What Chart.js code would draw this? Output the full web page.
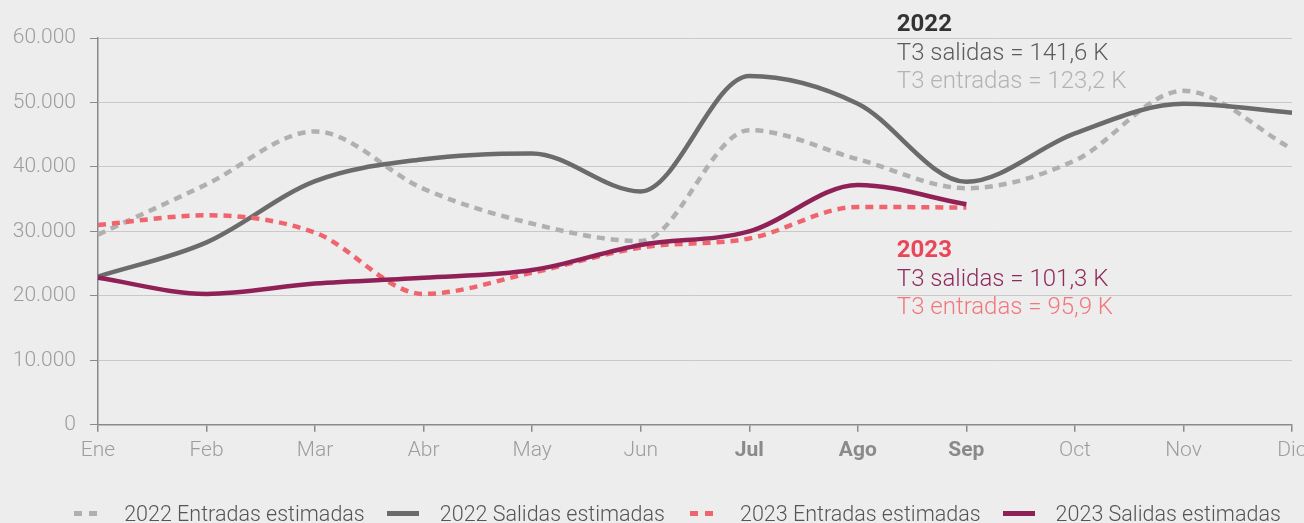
<!DOCTYPE html>
<html>
<head>
<meta charset="utf-8">
<script src="https://cdn.jsdelivr.net/npm/chart.js@4.4.1/dist/chart.umd.min.js"></script>
<style>
  html, body { margin: 0; padding: 0; background: #ecedec; }
  #wrap { position: relative; width: 1304px; height: 523px; overflow: hidden; }
  #c { position: absolute; left: 0; top: 0; }
  #legend { position: absolute; left: 48px; right: 0; top: 499px; height: 28px; display: flex; justify-content: center; align-items: center;
            font-family: Roboto, sans-serif; font-weight: 300; font-size: 21.5px; color: #555; white-space: nowrap; }
  .item { display: flex; align-items: center; margin: 0 11px; }
  .mk { width: 32px; height: 5px; margin-right: 21px; }
</style>
</head>
<body>
<div id="wrap">
  <canvas id="c" width="1304" height="523"></canvas>
  <div id="legend"></div>
</div>
<script>
// ---- data ----
const months = ['Ene','Feb','Mar','Abr','May','Jun','Jul','Ago','Sep','Oct','Nov','Dic'];
const boldMonths = ['Jul','Ago','Sep'];
const seriesNames = ['2022 Entradas estimadas','2022 Salidas estimadas','2023 Entradas estimadas','2023 Salidas estimadas'];
const entradas2022 = [29500, 37300, 45500, 36600, 31200, 28500, 45700, 41200, 36700, 41000, 51800, 42800];
const salidas2022  = [23000, 28300, 37800, 41200, 42100, 36200, 54100, 49800, 37700, 45200, 49800, 48400];
const entradas2023 = [31000, 32500, 29800, 20300, 23600, 27500, 28900, 33800, 33700];
const salidas2023  = [22800, 20300, 21900, 22800, 24000, 27900, 30000, 37200, 34200];
const yTickValues = [0, 10000, 20000, 30000, 40000, 50000, 60000];
const yTickLabels = ['0','10.000','20.000','30.000','40.000','50.000','60.000'];
const notes2022 = ['2022', 'T3 salidas = 141,6 K', 'T3 entradas = 123,2 K'];
const notes2023 = ['2023', 'T3 salidas = 101,3 K', 'T3 entradas = 95,9 K'];

// ---- styles ----
const colors = ['#b0b0b1', '#6b6b6e', '#f0646e', '#8f2157'];
const dashed = [true, false, true, false];
const FONT = 'Roboto, sans-serif';

const seriesData = [entradas2022, salidas2022, entradas2023, salidas2023];
const datasets = seriesData.map((d, i) => ({
  label: seriesNames[i],
  data: d,
  borderColor: colors[i],
  backgroundColor: colors[i],
  borderWidth: 4.5,
  borderDash: dashed[i] ? [8, 6] : [],
  cubicInterpolationMode: 'monotone',
  pointRadius: 0,
  pointHoverRadius: 0,
  fill: false,
  order: [3, 2, 1, 0][i]
}));

const notesPlugin = {
  id: 'notes',
  afterDraw(chart) {
    const ctx = chart.ctx;
    const xs = chart.scales.x;
    const x0 = xs.getPixelForValue(7) + 39;
    const blocks = [
      { lines: notes2022, y: 25, cols: ['#333333', '#5c5c5e', '#b3b3b3'] },
      { lines: notes2023, y: 251, cols: ['#ea4659', '#8f2a5c', '#f2777d'] }
    ];
    ctx.save();
    ctx.textAlign = 'left';
    ctx.textBaseline = 'middle';
    blocks.forEach(b => {
      b.lines.forEach((t, k) => {
        ctx.font = (k === 0 ? '700 ' : '300 ') + '24px ' + FONT;
        ctx.fillStyle = b.cols[k];
        ctx.fillText(t, x0, b.y + k * 28.5);
      });
    });
    ctx.restore();
  }
};

new Chart(document.getElementById('c'), {
  type: 'line',
  data: { labels: months, datasets },
  options: {
    responsive: false,
    animation: false,
    events: [],
    layout: { padding: { top: 38, left: 12, right: 0, bottom: 54 } },
    plugins: { legend: { display: false }, tooltip: { enabled: false } },
    scales: {
      x: {
        offset: false,
        grid: { display: true, drawOnChartArea: false, drawTicks: true, tickLength: 7, color: '#8a8a8a', lineWidth: 1.5 },
        border: { display: true, color: '#8a8a8a', width: 1.5 },
        ticks: {
          padding: 6,
          autoSkip: false,
          maxRotation: 0,
          color: (c) => boldMonths.includes(months[c.index]) ? '#8a8a8a' : '#9d9d9d',
          font: (c) => ({ family: FONT, size: 21, weight: boldMonths.includes(months[c.index]) ? 'bold' : 300 })
        },
        afterFit: (s) => { s.paddingRight = 12; }
      },
      y: {
        min: 0, max: 60000,
        afterBuildTicks: (s) => { s.ticks = yTickValues.map(v => ({ value: v })); },
        grid: { color: '#c9c9c9', lineWidth: 1, tickLength: 8, tickColor: '#8a8a8a', drawTicks: true },
        border: { display: true, color: '#8a8a8a', width: 1.5 },
        ticks: {
          padding: 14,
          color: '#9d9d9d',
          font: { family: FONT, size: 21, weight: 300 },
          callback: (v) => yTickLabels[yTickValues.indexOf(v)]
        },
        afterFit: (s) => { s.width = 86; }
      }
    }
  },
  plugins: [notesPlugin]
});

// ---- HTML legend ----
const lg = document.getElementById('legend');
seriesNames.forEach((n, i) => {
  const it = document.createElement('div');
  it.className = 'item';
  const mk = document.createElement('div');
  mk.className = 'mk';
  mk.style.background = dashed[i]
    ? `repeating-linear-gradient(to right, transparent 0 3px, ${colors[i]} 3px 11px, transparent 11px 15px)`
    : colors[i];
  const tx = document.createElement('span');
  tx.textContent = n;
  it.appendChild(mk); it.appendChild(tx);
  lg.appendChild(it);
});
</script>
</body>
</html>
